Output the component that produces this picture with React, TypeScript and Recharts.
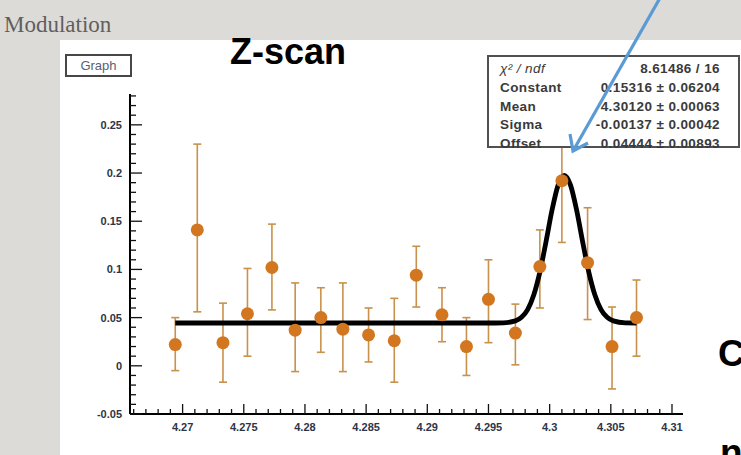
import React from "react";
import { ComposedChart, Scatter, Line, XAxis, YAxis, ErrorBar } from "recharts";

// measured points (z position vs modulation)
const pointX = [4.2694, 4.2712, 4.2733, 4.2753, 4.2773, 4.2792, 4.2813, 4.2831, 4.2852, 4.2873, 4.2891, 4.2912, 4.2932, 4.295, 4.2972, 4.2992, 4.301, 4.3031, 4.3051, 4.3071];
const pointY = [0.022, 0.141, 0.024, 0.054, 0.102, 0.037, 0.05, 0.038, 0.032, 0.026, 0.094, 0.053, 0.02, 0.069, 0.034, 0.103, 0.192, 0.107, 0.02, 0.05];
const errDown = [0.027, 0.085, 0.041, 0.044, 0.044, 0.043, 0.036, 0.044, 0.028, 0.043, 0.033, 0.028, 0.03, 0.045, 0.033, 0.043, 0.064, 0.059, 0.044, 0.04];
const errUp = [0.028, 0.089, 0.041, 0.047, 0.045, 0.049, 0.031, 0.048, 0.028, 0.044, 0.03, 0.028, 0.03, 0.041, 0.03, 0.038, 0.063, 0.057, 0.041, 0.039];

// gaussian + offset fit curve
const fitX = [4.2694, 4.295, 4.2962, 4.2972, 4.2977, 4.2982, 4.2987, 4.2992, 4.2997, 4.3002, 4.3007, 4.3012, 4.3017, 4.3022, 4.3027, 4.3032, 4.3037, 4.3042, 4.3047, 4.3052, 4.3062, 4.3071];
const fitY = [0.0444, 0.0444, 0.0446, 0.0466, 0.0503, 0.0583, 0.0734, 0.0972, 0.1285, 0.1618, 0.1877, 0.1976, 0.1877, 0.1618, 0.1285, 0.0972, 0.0734, 0.0583, 0.0503, 0.0466, 0.0446, 0.0444];

const xMajor = [4.27, 4.275, 4.28, 4.285, 4.29, 4.295, 4.3, 4.305, 4.31];
const yMajor = [-0.05, 0, 0.05, 0.1, 0.15, 0.2, 0.25];

const statLabels = ["χ² / ndf", "Constant", "Mean", "Sigma", "Offset"];
const statValues = ["8.61486 / 16", "0.15316 ± 0.06204", "4.30120 ± 0.00063", "-0.00137 ± 0.00042", "0.04444 ± 0.00893"];

const xDomain = [4.2657, 4.3109];
const yDomain = [-0.05, 0.282];

const points = pointX.map((x, i) => ({ x, y: pointY[i], err: [errDown[i], errUp[i]] }));
const fit = fitX.map((x, i) => ({ x, y: fitY[i] }));

// minor ticks every 0.001 (x) and 0.01 (y)
const xTicks = Array.from({ length: 45 }, (_, i) => (4266 + i) / 1000);
const yTicks = Array.from({ length: 34 }, (_, i) => (i - 5) / 100);

const isMajor = (v: number, list: number[]) => list.some((m) => Math.abs(m - v) < 1e-9);

const labelStyle = { fontSize: 11, fontWeight: 700, fill: "#2e3446", fontFamily: "'Liberation Sans', Arial, sans-serif" };

function YTick(props: any) {
  const { x, y, payload } = props;
  const major = isMajor(payload.value, yMajor);
  return (
    <g>
      <line x1={x} y1={y} x2={x + (major ? 12 : 6)} y2={y} stroke="#111" strokeWidth={1.3} />
      {major && (
        <text x={x - 8} y={y + 4} textAnchor="end" {...labelStyle}>
          {String(payload.value)}
        </text>
      )}
    </g>
  );
}

function XTick(props: any) {
  const { x, y, payload } = props;
  const major = isMajor(payload.value, xMajor);
  return (
    <g>
      <line x1={x} y1={y} x2={x} y2={y - (major ? 10 : 5)} stroke="#111" strokeWidth={1.3} />
      {major && (
        <text x={x} y={y + 17} textAnchor="middle" {...labelStyle}>
          {String(payload.value)}
        </text>
      )}
    </g>
  );
}

export default function App() {
  return (
    <div style={{ position: "absolute", left: 0, top: 0, width: 741, height: 455, overflow: "hidden", background: "#dddbd7", fontFamily: "'Liberation Sans', Arial, sans-serif" }}>
      <div style={{ position: "absolute", left: 60, top: 40, right: 0, bottom: 0, background: "#ffffff" }} />
      <div style={{ position: "absolute", left: 4, top: 12, fontFamily: "'Liberation Serif', 'Times New Roman', serif", fontSize: 23, color: "#5f5f5f" }}>
        Modulation
      </div>
      <div style={{ position: "absolute", left: 65, top: 54, width: 67, height: 23, boxSizing: "border-box", border: "2px solid #474747", background: "#fff", fontSize: 13, color: "#5a6072", textAlign: "center", lineHeight: "19px" }}>
        Graph
      </div>

      <div style={{ position: "absolute", left: 0, top: 0 }}>
        <ComposedChart width={741} height={455} margin={{ top: 94, right: 58, bottom: 1, left: 70 }}>
          <XAxis
            dataKey="x"
            type="number"
            domain={xDomain}
            allowDataOverflow
            ticks={xTicks}
            interval={0}
            tickSize={0}
            tickMargin={0}
            tickLine={false}
            tick={<XTick />}
            height={40}
            axisLine={{ stroke: "#000", strokeWidth: 2 }}
          />
          <XAxis xAxisId="top" orientation="top" type="number" domain={xDomain} height={0} tick={false} tickLine={false} axisLine={{ stroke: "#333", strokeWidth: 1.5 }} />
          <YAxis
            type="number"
            domain={yDomain}
            allowDataOverflow
            ticks={yTicks}
            interval={0}
            tickSize={0}
            tickMargin={0}
            tickLine={false}
            tick={<YTick />}
            width={60}
            axisLine={{ stroke: "#000", strokeWidth: 2 }}
          />
          <YAxis yAxisId="right" orientation="right" type="number" domain={yDomain} width={0} tick={false} tickLine={false} axisLine={{ stroke: "#999", strokeWidth: 2 }} />
          <Scatter
            data={points}
            dataKey="y"
            isAnimationActive={false}
            shape={(p: any) => <circle cx={p.cx} cy={p.cy} r={6.5} fill="#d2771f" />}
          >
            <ErrorBar dataKey="err" direction="y" width={4} stroke="#c8914c" strokeWidth={1.6} />
          </Scatter>
          <Line data={fit} dataKey="y" type="monotone" stroke="#000" strokeWidth={4.8} dot={false} activeDot={false} isAnimationActive={false} />
        </ComposedChart>
      </div>

      <div style={{ position: "absolute", left: 487, top: 55, width: 253, height: 93, boxSizing: "border-box", border: "2px solid #505050", background: "#fff", paddingTop: 3, paddingLeft: 11, paddingRight: 18, fontSize: 13.5, fontWeight: 700, color: "#3a3a3a", letterSpacing: 0.4 }}>
        {statLabels.map((label, i) => (
          <div key={label} style={{ display: "flex", justifyContent: "space-between", height: 18.8, lineHeight: "18.8px" }}>
            <span style={i === 0 ? { fontStyle: "italic", fontWeight: 400 } : undefined}>{label}</span>
            <span>{statValues[i]}</span>
          </div>
        ))}
      </div>

      <div style={{ position: "absolute", left: 230, top: 31, fontSize: 36, fontWeight: 700, color: "#000", whiteSpace: "nowrap" }}>Z-scan</div>
      <div style={{ position: "absolute", left: 718, top: 333, fontSize: 37, fontWeight: 700, color: "#000" }}>C</div>
      <div style={{ position: "absolute", left: 720, top: 432, fontSize: 37, fontWeight: 700, color: "#000" }}>n</div>

      <svg width={741} height={455} style={{ position: "absolute", left: 0, top: 0, pointerEvents: "none" }}>
        <line x1={660} y1={-2} x2={573} y2={151} stroke="#5b9bd5" strokeWidth={3.2} />
        <polyline points="570,134 573,151 588,143" fill="none" stroke="#5b9bd5" strokeWidth={3.2} strokeLinejoin="miter" />
      </svg>
    </div>
  );
}
